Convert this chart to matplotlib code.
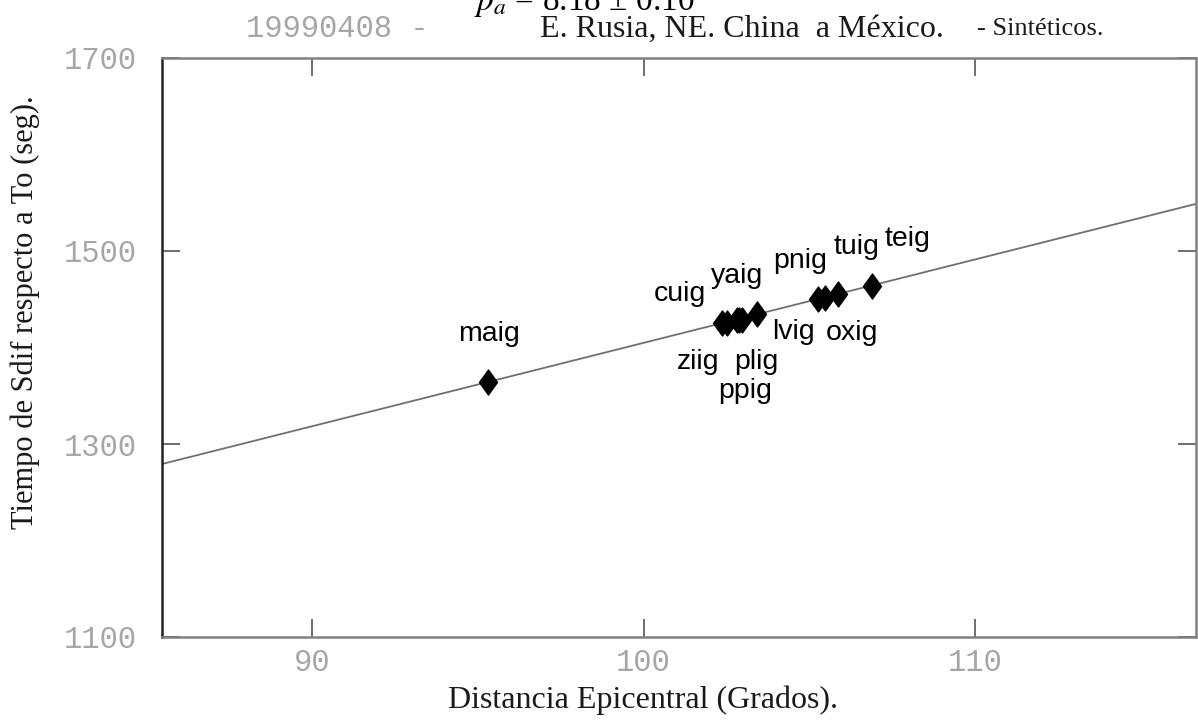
import matplotlib
matplotlib.use("Agg")
import matplotlib.pyplot as plt
import numpy as np
from matplotlib.path import Path

# ---- data ----
stations = ["maig", "cuig", "ziig", "yaig", "ppig", "plig", "lvig", "pnig", "oxig", "tuig", "teig"]
distance = [95.31, 102.36, 102.51, 102.81, 102.88, 102.96, 103.43, 105.27, 105.48, 105.88, 106.88]
sdif_time = [1364.2, 1425.0, 1425.4, 1428.8, 1428.6, 1428.8, 1434.7, 1450.2, 1451.0, 1455.4, 1464.0]
# label offsets (pixels) relative to each point
label_dx = [1, -42, -29, 0, 6, 15, 36, -18, 27, 18, 36]
label_dy = [48, 29, -39, 44, -71, -42, -18, 38, -35, 47, 47]

fit_slope = 8.64        # s / degree
fit_at_100 = 1404.8     # s at 100 degrees

xlim = (85.47, 116.67)
ylim = (1100, 1700)
xticks = [90, 100, 110]
yticks = [1100, 1300, 1500, 1700]

plt.rcParams["mathtext.fontset"] = "stix"

W, H = 1198, 724
fig = plt.figure(figsize=(W / 100, H / 100), dpi=100)
ax = fig.add_axes([162 / W, 1 - 637 / H, (1196 - 162) / W, (637 - 58) / H])

# fit line
fx = np.array(xlim)
fy = fit_at_100 + fit_slope * (fx - 100)
ax.plot(fx, fy, color="#707070", lw=1.3, zorder=2)

# diamonds
diamond = Path([(0, 1), (0.72, 0), (0, -1), (-0.72, 0), (0, 1)],
               [Path.MOVETO, Path.LINETO, Path.LINETO, Path.LINETO, Path.CLOSEPOLY])
ax.plot(distance, sdif_time, linestyle="none", marker=diamond, markersize=18,
        color="black", zorder=3)

for name, x, y, dx, dy in zip(stations, distance, sdif_time, label_dx, label_dy):
    ax.annotate(name, (x, y), xytext=(dx, dy), textcoords="offset pixels",
                ha="center", va="center", fontsize=20.5, family="Liberation Sans",
                color="black")

ax.set_xlim(*xlim)
ax.set_ylim(*ylim)
ax.set_xticks(xticks)
ax.set_yticks(yticks)
ax.tick_params(axis="both", which="major", direction="in", length=13, width=1.2,
               color="#555555", labelcolor="#a6a6a6", labelsize=22,
               top=True, right=True)
ax.tick_params(axis="y", pad=18)
ax.tick_params(axis="x", pad=8)
for lab in ax.get_xticklabels() + ax.get_yticklabels():
    lab.set_family("Liberation Mono")

ax.spines["left"].set_color("#222222")
ax.spines["left"].set_linewidth(1.8)
for s in ["top", "right", "bottom"]:
    ax.spines[s].set_color("#808080")
    ax.spines[s].set_linewidth(1.8)

ax.set_xlabel("Distancia Epicentral (Grados).", family="Liberation Serif",
              fontsize=23, color="#1a1a1a", va="center", ha="center")
ax.xaxis.set_label_coords(643 / W, 1 - 700 / H, transform=fig.transFigure)
ax.set_ylabel("Tiempo de Sdif respecto a To (seg).", family="Liberation Serif",
              fontsize=22, color="#1a1a1a", va="center", ha="center")
ax.yaxis.set_label_coords(25 / W, 1 - 312 / H, transform=fig.transFigure)

# header texts
fig.text(584 / W, 1 - 10 / H, r"$p_a$ = 8.18 ± 0.10", ha="center",
         va="baseline", fontsize=24, family="Liberation Serif")
fig.text(246 / W, 1 - 29 / H, "19990408 -", ha="left", va="center",
         fontsize=22, family="Liberation Mono", color="#a6a6a6")
fig.text(540 / W, 1 - 29 / H, "E. Rusia, NE. China  a México.", ha="left",
         va="center", fontsize=23, family="Liberation Serif", color="#1a1a1a")
fig.text(977 / W, 1 - 29 / H, "- Sintéticos.", ha="left", va="center",
         fontsize=19, family="Liberation Serif", color="#1a1a1a")

fig.savefig("out.png", dpi=100)
